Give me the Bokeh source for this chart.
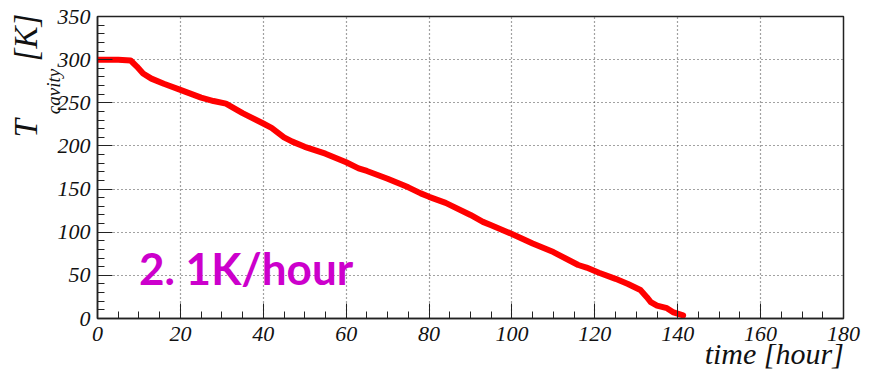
from bokeh.plotting import figure
from bokeh.models import Range1d, Label, SingleIntervalTicker, Title
from bokeh.embed import file_html
from bokeh.resources import INLINE

# Data (time in hours, cavity temperature in K)
time_h = [0, 5, 8, 9.5, 11, 13, 16, 20, 25, 28, 31, 35, 40, 42, 45, 47, 50, 55, 60,
          63, 65, 70, 75, 78, 80, 84, 90, 93, 95, 100, 105, 110, 116, 118, 121,
          125, 128, 131, 132.5, 133.5, 135, 137.4, 139, 141.3]
temp_k = [300, 300, 299, 292, 284, 278, 272, 265, 256, 252, 249, 238, 226, 221, 210, 205, 199, 191, 181,
          174, 171, 162, 152, 145, 141, 134, 120, 112, 108, 98, 87, 77, 62, 59, 53,
          46, 40, 33, 25, 19, 15, 12, 7, 3.5]

x_ticks = list(range(0, 181, 20))
y_ticks = list(range(0, 351, 50))
annotation = "2. 1K/hour"
x_title = "time [hour]"
y_symbol = "T"
y_subscript = "cavity"
y_unit = "[K]"

SERIF = "Liberation Serif"
NB = "\u00a0"

p = figure(width=877, height=379, output_backend="svg", toolbar_location=None,
           x_range=Range1d(0, 180), y_range=Range1d(0, 350),
           min_border_left=97, min_border_right=34, min_border_top=16, min_border_bottom=61)
p.background_fill_color = "white"
p.border_fill_color = "white"
p.outline_line_color = "#222222"
p.outline_line_width = 1.5

p.line(time_h, temp_k, line_color="#ff0000", line_width=6, line_join="round", line_cap="round")

p.xaxis.ticker = SingleIntervalTicker(interval=20, num_minor_ticks=4)
p.yaxis.ticker = SingleIntervalTicker(interval=50, num_minor_ticks=5)
for ax in (p.xaxis[0], p.yaxis[0]):
    ax.axis_line_color = "#222222"
    ax.axis_line_width = 1.5
    ax.major_tick_in = 15
    ax.major_tick_out = 0
    ax.minor_tick_in = 7
    ax.minor_tick_out = 0
    ax.major_tick_line_color = "#222222"
    ax.minor_tick_line_color = "#222222"
    ax.major_label_text_font = SERIF
    ax.major_label_text_font_style = "italic"
    ax.major_label_text_font_size = "22px"
    ax.major_label_text_color = "#111111"
    ax.axis_label_text_font = SERIF
    ax.axis_label_text_font_style = "italic"
    ax.axis_label_text_color = "#111111"
p.xaxis.major_label_standoff = 8
p.yaxis.major_label_standoff = 7

# x title: centred axis label padded on the left so it ends at the right edge
p.xaxis.axis_label = NB * 81 + x_title
p.xaxis.axis_label_text_font_size = "30px"
p.xaxis.axis_label_standoff = -7

# y title: subscript as the axis label, symbol and unit as an outer title
p.yaxis.axis_label = NB * 32 + y_subscript
p.yaxis.axis_label_text_font_size = "19px"
p.yaxis.axis_label_standoff = -9
p.add_layout(Title(text=y_symbol + NB * 7 + y_unit, align="left", offset=181, standoff=-8,
                   text_font=SERIF, text_font_style="italic", text_font_size="33px",
                   text_color="#111111"), "left")

for g in (p.xgrid[0], p.ygrid[0]):
    g.grid_line_color = "#444444"
    g.grid_line_dash = "1 3"
    g.grid_line_width = 1.2
p.xgrid.ticker = SingleIntervalTicker(interval=20)
p.ygrid.ticker = SingleIntervalTicker(interval=50)

# Annotation text
p.add_layout(Label(x=10, y=58, text=annotation, text_font="Lato", text_font_style="bold",
                   text_font_size="44px", text_color="#cc00cc", text_baseline="alphabetic"))

open("out.html", "w").write(file_html(p, INLINE))
